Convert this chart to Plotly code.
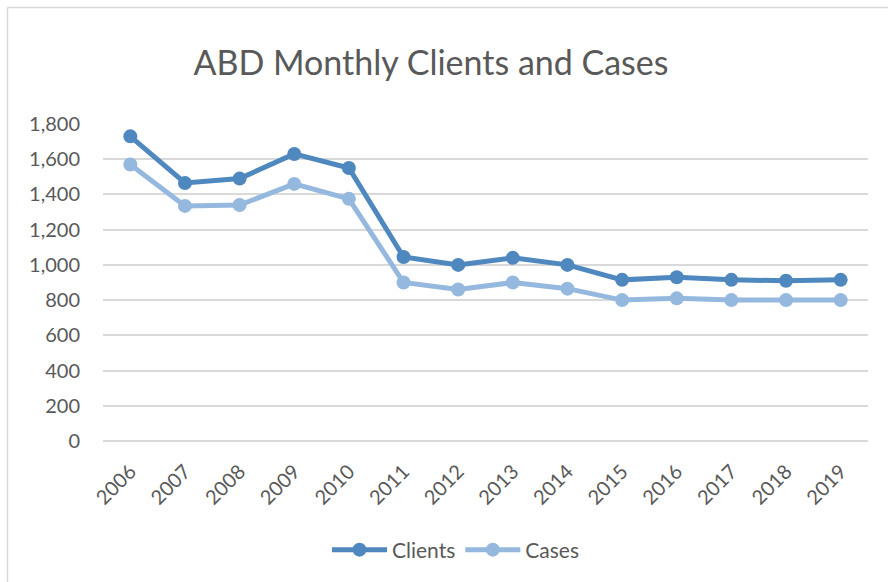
import plotly.graph_objects as go

years = ["2006", "2007", "2008", "2009", "2010", "2011", "2012",
         "2013", "2014", "2015", "2016", "2017", "2018", "2019"]
clients = [1730, 1465, 1490, 1630, 1550, 1045, 1000, 1040, 1000, 915, 930, 915, 910, 915]
cases = [1570, 1335, 1340, 1460, 1375, 900, 860, 900, 865, 800, 810, 800, 800, 800]
y_ticks = [0, 200, 400, 600, 800, 1000, 1200, 1400, 1600, 1800]

W, H = 888, 582
L, R, T, B = 103, 20, 124, 141
pw, ph = W - L - R, H - T - B

def px_x(p):
    return (p - L) / pw

def px_y(p):
    return (H - B - p) / ph

font = "Lato, 'Open Sans', sans-serif"
txt = "#595959"

fig = go.Figure()
fig.add_trace(go.Scatter(
    x=years, y=clients, name="Clients", mode="lines+markers",
    line=dict(color="#4E88BE", width=5),
    marker=dict(size=14, color="#4E88BE"),
))
fig.add_trace(go.Scatter(
    x=years, y=cases, name="Cases", mode="lines+markers",
    line=dict(color="#95B8DF", width=5),
    marker=dict(size=14, color="#95B8DF"),
))

fig.update_layout(
    width=W, height=H,
    margin=dict(l=L, r=R, t=T, b=B),
    paper_bgcolor="white", plot_bgcolor="white",
    title=dict(text="ABD Monthly Clients and Cases", x=431 / W, xanchor="center",
               y=1 - 63 / H, yanchor="middle", xref="container", yref="container",
               font=dict(family=font, size=34, color=txt)),
    font=dict(family=font, color=txt, size=20),
    showlegend=True,
    legend=dict(orientation="h", x=456 / W, xanchor="center", xref="container",
                y=1 - 550 / H, yanchor="middle", yref="container",
                font=dict(size=21, color=txt), itemwidth=55,
                traceorder="normal", bgcolor="rgba(0,0,0,0)"),
    xaxis=dict(type="category", categoryorder="array", categoryarray=years,
               tickangle=-45, showgrid=False, showline=False, zeroline=False,
               ticks="outside", ticklen=10, tickcolor="rgba(0,0,0,0)",
               tickfont=dict(size=20, color=txt), range=[-0.5, 13.5]),
    yaxis=dict(range=[0, 1800], tickvals=y_ticks, tickformat=",d",
               showgrid=True, gridcolor="#D9D9D9", gridwidth=1.5,
               zeroline=True, zerolinecolor="#D9D9D9", zerolinewidth=1.5,
               showline=False, ticks="outside", ticklen=18,
               tickcolor="rgba(0,0,0,0)", tickfont=dict(size=20, color=txt)),
    shapes=[
        dict(type="line", xref="paper", yref="paper",
             x0=px_x(7.5), x1=px_x(900), y0=px_y(7.5), y1=px_y(7.5),
             line=dict(color="#D9D9D9", width=1.5), layer="below"),
        dict(type="line", xref="paper", yref="paper",
             x0=px_x(7.5), x1=px_x(7.5), y0=px_y(7.5), y1=px_y(600),
             line=dict(color="#D9D9D9", width=1.5), layer="below"),
    ],
)

fig.write_html("out.html", config={"displayModeBar": False},
               post_script="document.body.style.margin='0';")
